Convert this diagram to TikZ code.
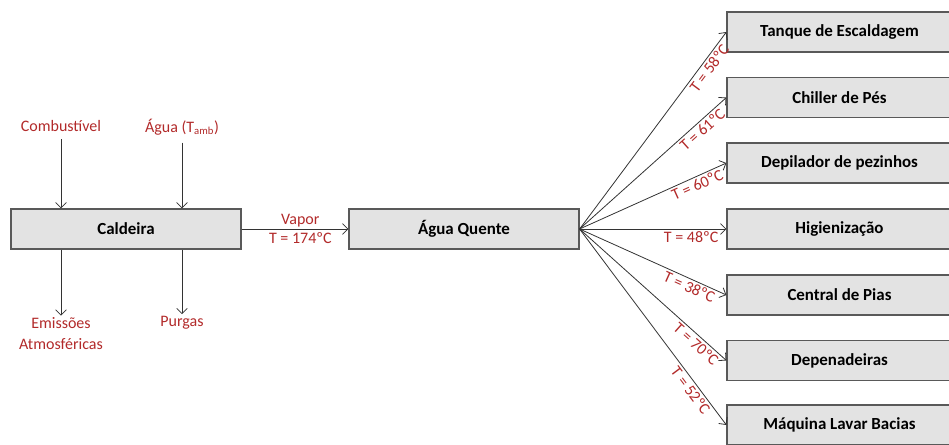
\documentclass[tikz,border=0pt]{standalone}
\usepackage{fontspec}
\setmainfont{Carlito}
\usetikzlibrary{arrows.meta}
\definecolor{labelred}{RGB}{178,42,42}
\definecolor{boxgray}{RGB}{227,227,227}

\begin{document}
\begin{tikzpicture}[x=0.75pt, y=-0.75pt, font=\fontsize{12}{15.75}\selectfont,
    box/.style={draw=black!65, fill=boxgray, line width=0.9pt, minimum height=30pt,
        font=\fontsize{12.7}{15}\selectfont\bfseries},
    unit/.style={box, minimum width=172.5pt},
    user/.style={box, minimum width=168.75pt},
    flow/.style={draw=black!80, line width=0.6pt, -{Straight Barb[length=4pt,width=8pt]}},
    lbl/.style={text=labelred, inner sep=1.5pt}]
    \useasboundingbox (0,0) rectangle (949,444);

    % caldeira e entradas/saidas
    \node[unit] (cald) at (126,229) {Caldeira};
    \node[unit] (quente) at (464,229) {Água Quente};
    \node[lbl] (comb) at (61,126) {Combustível};
    \node[lbl] (agua) at (182,127) {Água (T\textsubscript{amb})};
    \node[lbl, align=center] (emis) at (61,334) {Emissões\\Atmosféricas};
    \node[lbl] (purg) at (182,323) {Purgas};
    \draw[flow, shorten <=4pt] (comb) -- (comb |- cald.north);
    \draw[flow, shorten <=4pt] (agua) -- (agua |- cald.north);
    \draw[flow] (cald.south -| emis) -- (emis.north);
    \draw[flow] (cald.south -| purg) -- (purg.north);

    \draw[flow] (cald) -- (quente)
        node[lbl, above, pos=0.55] {Vapor}
        node[lbl, below, pos=0.55, yshift=-1pt] {T = 174ºC};

    % consumidores de agua quente
    \foreach \name/\txt/\y/\temp/\p in {
        tanque/Tanque de Escaldagem/32/58/0.84,
        chiller/Chiller de Pés/97.5/61/0.80,
        depil/Depilador de pezinhos/163/60/0.78,
        higien/Higienização/229/48/0.76,
        pias/Central de Pias/295/38/0.77,
        depen/Depenadeiras/360.5/70/0.83,
        bacias/Máquina Lavar Bacias/425/52/0.80} {
        \node[user] (\name) at (839.5,\y) {\txt};
        \draw[flow] (quente.east) -- (\name.west)
            node[lbl, below, sloped, pos=\p] {T = \temp ºC};
    }
\end{tikzpicture}
\end{document}
